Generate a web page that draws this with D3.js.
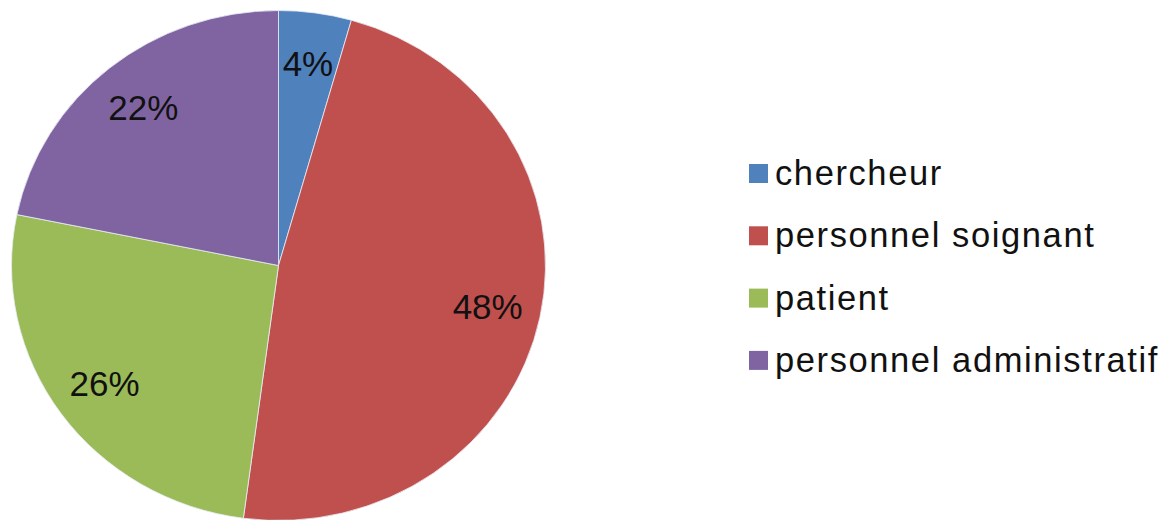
<!DOCTYPE html>
<html>
<head>
<meta charset="utf-8">
<script src="https://cdn.jsdelivr.net/npm/d3@7/dist/d3.min.js"></script>
<style>
  html, body { margin: 0; padding: 0; background: #fff; }
  svg { display: block; }
  text { font-family: "Liberation Sans", Arial, sans-serif; fill: #111; }
</style>
</head>
<body>
<svg id="chart" width="1165" height="520"></svg>
<script>
const categories = ["chercheur", "personnel soignant", "patient", "personnel administratif"];
const values = [4.4, 47.7, 26.1, 21.8];
const labels = ["4%", "48%", "26%", "22%"];
const colors = ["#4F81BD", "#C0504D", "#9BBB59", "#8064A2"];

const svg = d3.select("#chart");
const cx = 278.5, cy = 265.5, rx = 267, ry = 255;
const sx = rx / ry;

const pie = d3.pie().sort(null).value(d => d)(values);
const arc = d3.arc().innerRadius(0).outerRadius(ry);
const labelArc = d3.arc().innerRadius(ry * 0.8).outerRadius(ry * 0.8);

const g = svg.append("g").attr("transform", `translate(${cx},${cy}) scale(${sx},1)`);
g.selectAll("path").data(pie).enter().append("path")
  .attr("d", arc)
  .attr("fill", (d, i) => colors[i])
  .attr("stroke", "#e8eef6")
  .attr("stroke-width", 0.8)
  .attr("vector-effect", "non-scaling-stroke");

svg.append("g").selectAll("text").data(pie).enter().append("text")
  .attr("x", d => cx + labelArc.centroid(d)[0] * sx)
  .attr("y", d => cy + labelArc.centroid(d)[1])
  .attr("text-anchor", "middle")
  .attr("dominant-baseline", "central")
  .attr("font-size", 35)
  .text((d, i) => labels[i]);

const legend = svg.append("g").attr("transform", "translate(749,164)");
const rowH = 62.3;
const rows = legend.selectAll("g").data(categories).enter().append("g")
  .attr("transform", (d, i) => `translate(0,${i * rowH})`);
rows.append("rect")
  .attr("width", 19).attr("height", 19)
  .attr("fill", (d, i) => colors[i]);
rows.append("text")
  .attr("x", 26).attr("y", 21)
  .attr("font-size", 34.5)
  .attr("letter-spacing", 1.6)
  .text(d => d);
</script>
</body>
</html>
